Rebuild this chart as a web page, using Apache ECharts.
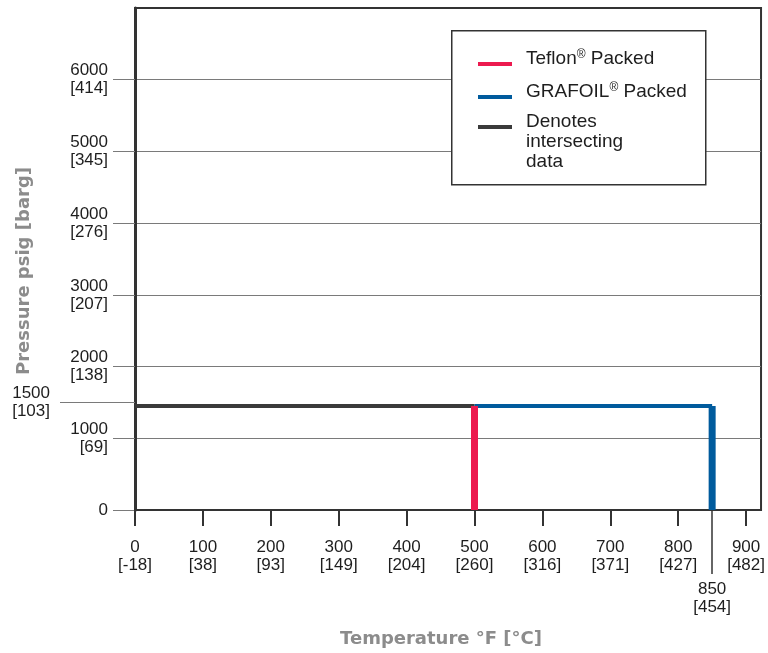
<!DOCTYPE html>
<html><head><meta charset="utf-8">
<script src="https://cdn.jsdelivr.net/npm/echarts@6/dist/echarts.min.js"></script>
<style>html,body{margin:0;padding:0;background:#fff}#c{width:768px;height:653px}</style>
</head><body><div id="c"></div>
<script>
// ---- data ----
const xTicksF = [0, 100, 200, 300, 400, 500, 600, 700, 800, 900];
const xTicksC = [-18, 38, 93, 149, 204, 260, 316, 371, 427, 482];
const xExtraF = [850];
const xExtraC = [454];
const yTicksPsig = [0, 1000, 2000, 3000, 4000, 5000, 6000];
const yTicksBarg = [null, 69, 138, 207, 276, 345, 414];
const yExtraPsig = [1500];
const yExtraBarg = [103];
const seriesNames = ['Teflon® Packed', 'GRAFOIL® Packed', 'Denotes\nintersecting\ndata'];
const teflonTemp = [500, 500];
const teflonPress = [1450, 0];
const grafoilTempH = [500, 850];
const grafoilPressH = [1450, 1450];
const grafoilTempV = [850, 850];
const grafoilPressV = [1450, 0];
const interTemp = [0, 500];
const interPress = [1450, 1450];

// ---- build ----
const FONT = '"Liberation Sans", Arial, Helvetica, sans-serif';
const TITLE_FONT = '"DejaVu Sans", "Liberation Sans", Arial, sans-serif';
const zip = (a, b) => a.map((v, i) => [v, b[i]]);
const lbl = (vals, cs) => v => {
  const i = vals.indexOf(v);
  if (i < 0) return '';
  return cs[i] == null ? String(v) : v + '\n[' + cs[i] + ']';
};
const RED = '#ec1a4f', BLUE = '#005b9d', DARK = '#3a3a3a';
const XMAX = 922, YMAX = 7000;
const supFmt = n => n.replace('®', '{sup|®}');
const legendText = (pad) => ({
  fontSize: 19, fontFamily: FONT, color: '#1e1e1e', lineHeight: 20, padding: pad,
  rich: { sup: { fontSize: 12, fontFamily: FONT, color: '#1e1e1e', verticalAlign: 'top', lineHeight: 20 } }
});
const lineSeries = (name, data, color, width, z) => ({
  type: 'line', name, data, symbol: 'none', showSymbol: false, z,
  lineStyle: { color, width, cap: 'butt', join: 'miter' },
  itemStyle: { color }, animation: false, silent: true
});

const chart = echarts.init(document.getElementById('c'), null, { renderer: 'canvas' });
chart.setOption({
  animation: false,
  grid: { left: 135, right: 3, top: 8, bottom: 142, show: true, borderColor: '#333', borderWidth: 2, backgroundColor: 'transparent' },
  graphic: [{
    type: 'rect', left: 451, top: 30, z: 5,
    shape: { width: 254, height: 154 },
    style: { fill: '#fff', stroke: '#333', lineWidth: 1.5 }
  }],
  legend: [{
    data: seriesNames.slice(0, 2), orient: 'vertical', left: 478, top: 49, padding: 0,
    itemWidth: 34, itemHeight: 4, itemGap: 3, icon: 'rect', z: 6, selectedMode: false,
    formatter: supFmt, textStyle: legendText([0, 0, 10, 9])
  }, {
    data: [seriesNames[2]], orient: 'vertical', left: 478, top: 72, padding: 0,
    itemWidth: 34, itemHeight: 4, icon: 'rect', z: 6, selectedMode: false,
    textStyle: legendText([40, 0, 10, 9])
  }],
  xAxis: [{
    type: 'value', min: 0, max: XMAX, position: 'bottom',
    axisLine: { show: true, onZero: false, lineStyle: { color: '#333', width: 2 } },
    axisTick: { show: true, customValues: xTicksF, length: 16, lineStyle: { color: '#333', width: 2 } },
    axisLabel: { customValues: xTicksF, margin: 28, fontSize: 17, lineHeight: 18, fontFamily: FONT, color: '#1e1e1e', formatter: lbl(xTicksF, xTicksC) },
    splitLine: { show: false },
    name: 'Temperature °F [°C]', nameLocation: 'middle', nameGap: 120,
    nameTextStyle: { fontSize: 18, fontWeight: 'bold', fontFamily: TITLE_FONT, color: '#8c8c8c', padding: [0, 14, 0, 0] }
  }, {
    type: 'value', min: 0, max: XMAX, position: 'bottom',
    axisLine: { show: false, onZero: false },
    axisTick: { show: true, customValues: xExtraF, length: 64, lineStyle: { color: '#333', width: 1.5 } },
    axisLabel: { customValues: xExtraF, margin: 70, fontSize: 17, lineHeight: 18, fontFamily: FONT, color: '#1e1e1e', formatter: lbl(xExtraF, xExtraC) },
    splitLine: { show: false }
  }],
  yAxis: [{
    type: 'value', min: 0, max: YMAX, interval: 1000, position: 'left',
    axisLine: { show: true, onZero: false, lineStyle: { color: '#333', width: 3 } },
    axisTick: { show: true, customValues: yTicksPsig, length: 22, lineStyle: { color: '#7a7a7a', width: 1 } },
    axisLabel: { customValues: yTicksPsig, margin: 27, fontSize: 17, lineHeight: 18, fontFamily: FONT, color: '#1e1e1e', formatter: lbl(yTicksPsig, yTicksBarg) },
    splitLine: { show: true, lineStyle: { color: '#7a7a7a', width: 1 } },
    name: 'Pressure psig [barg]', nameLocation: 'middle', nameGap: 102,
    nameTextStyle: { fontSize: 18, fontWeight: 'bold', fontFamily: TITLE_FONT, color: '#8c8c8c', padding: [0, 24, 0, 0] }
  }, {
    type: 'value', min: 0, max: YMAX, position: 'left',
    axisLine: { show: false, onZero: false },
    axisTick: { show: true, customValues: yExtraPsig, length: 75, lineStyle: { color: '#7a7a7a', width: 1 } },
    axisLabel: { customValues: yExtraPsig, margin: 85, fontSize: 17, lineHeight: 18, fontFamily: FONT, color: '#1e1e1e', formatter: lbl(yExtraPsig, yExtraBarg) },
    splitLine: { show: false }
  }],
  series: [
    lineSeries(seriesNames[1], zip(grafoilTempH, grafoilPressH), BLUE, 4, 2),
    lineSeries(seriesNames[1], zip(grafoilTempV, grafoilPressV), BLUE, 7, 2),
    lineSeries(seriesNames[2], zip(interTemp, interPress), DARK, 4, 3),
    lineSeries(seriesNames[0], zip(teflonTemp, teflonPress), RED, 7, 4)
  ]
});
</script>
</body></html>
